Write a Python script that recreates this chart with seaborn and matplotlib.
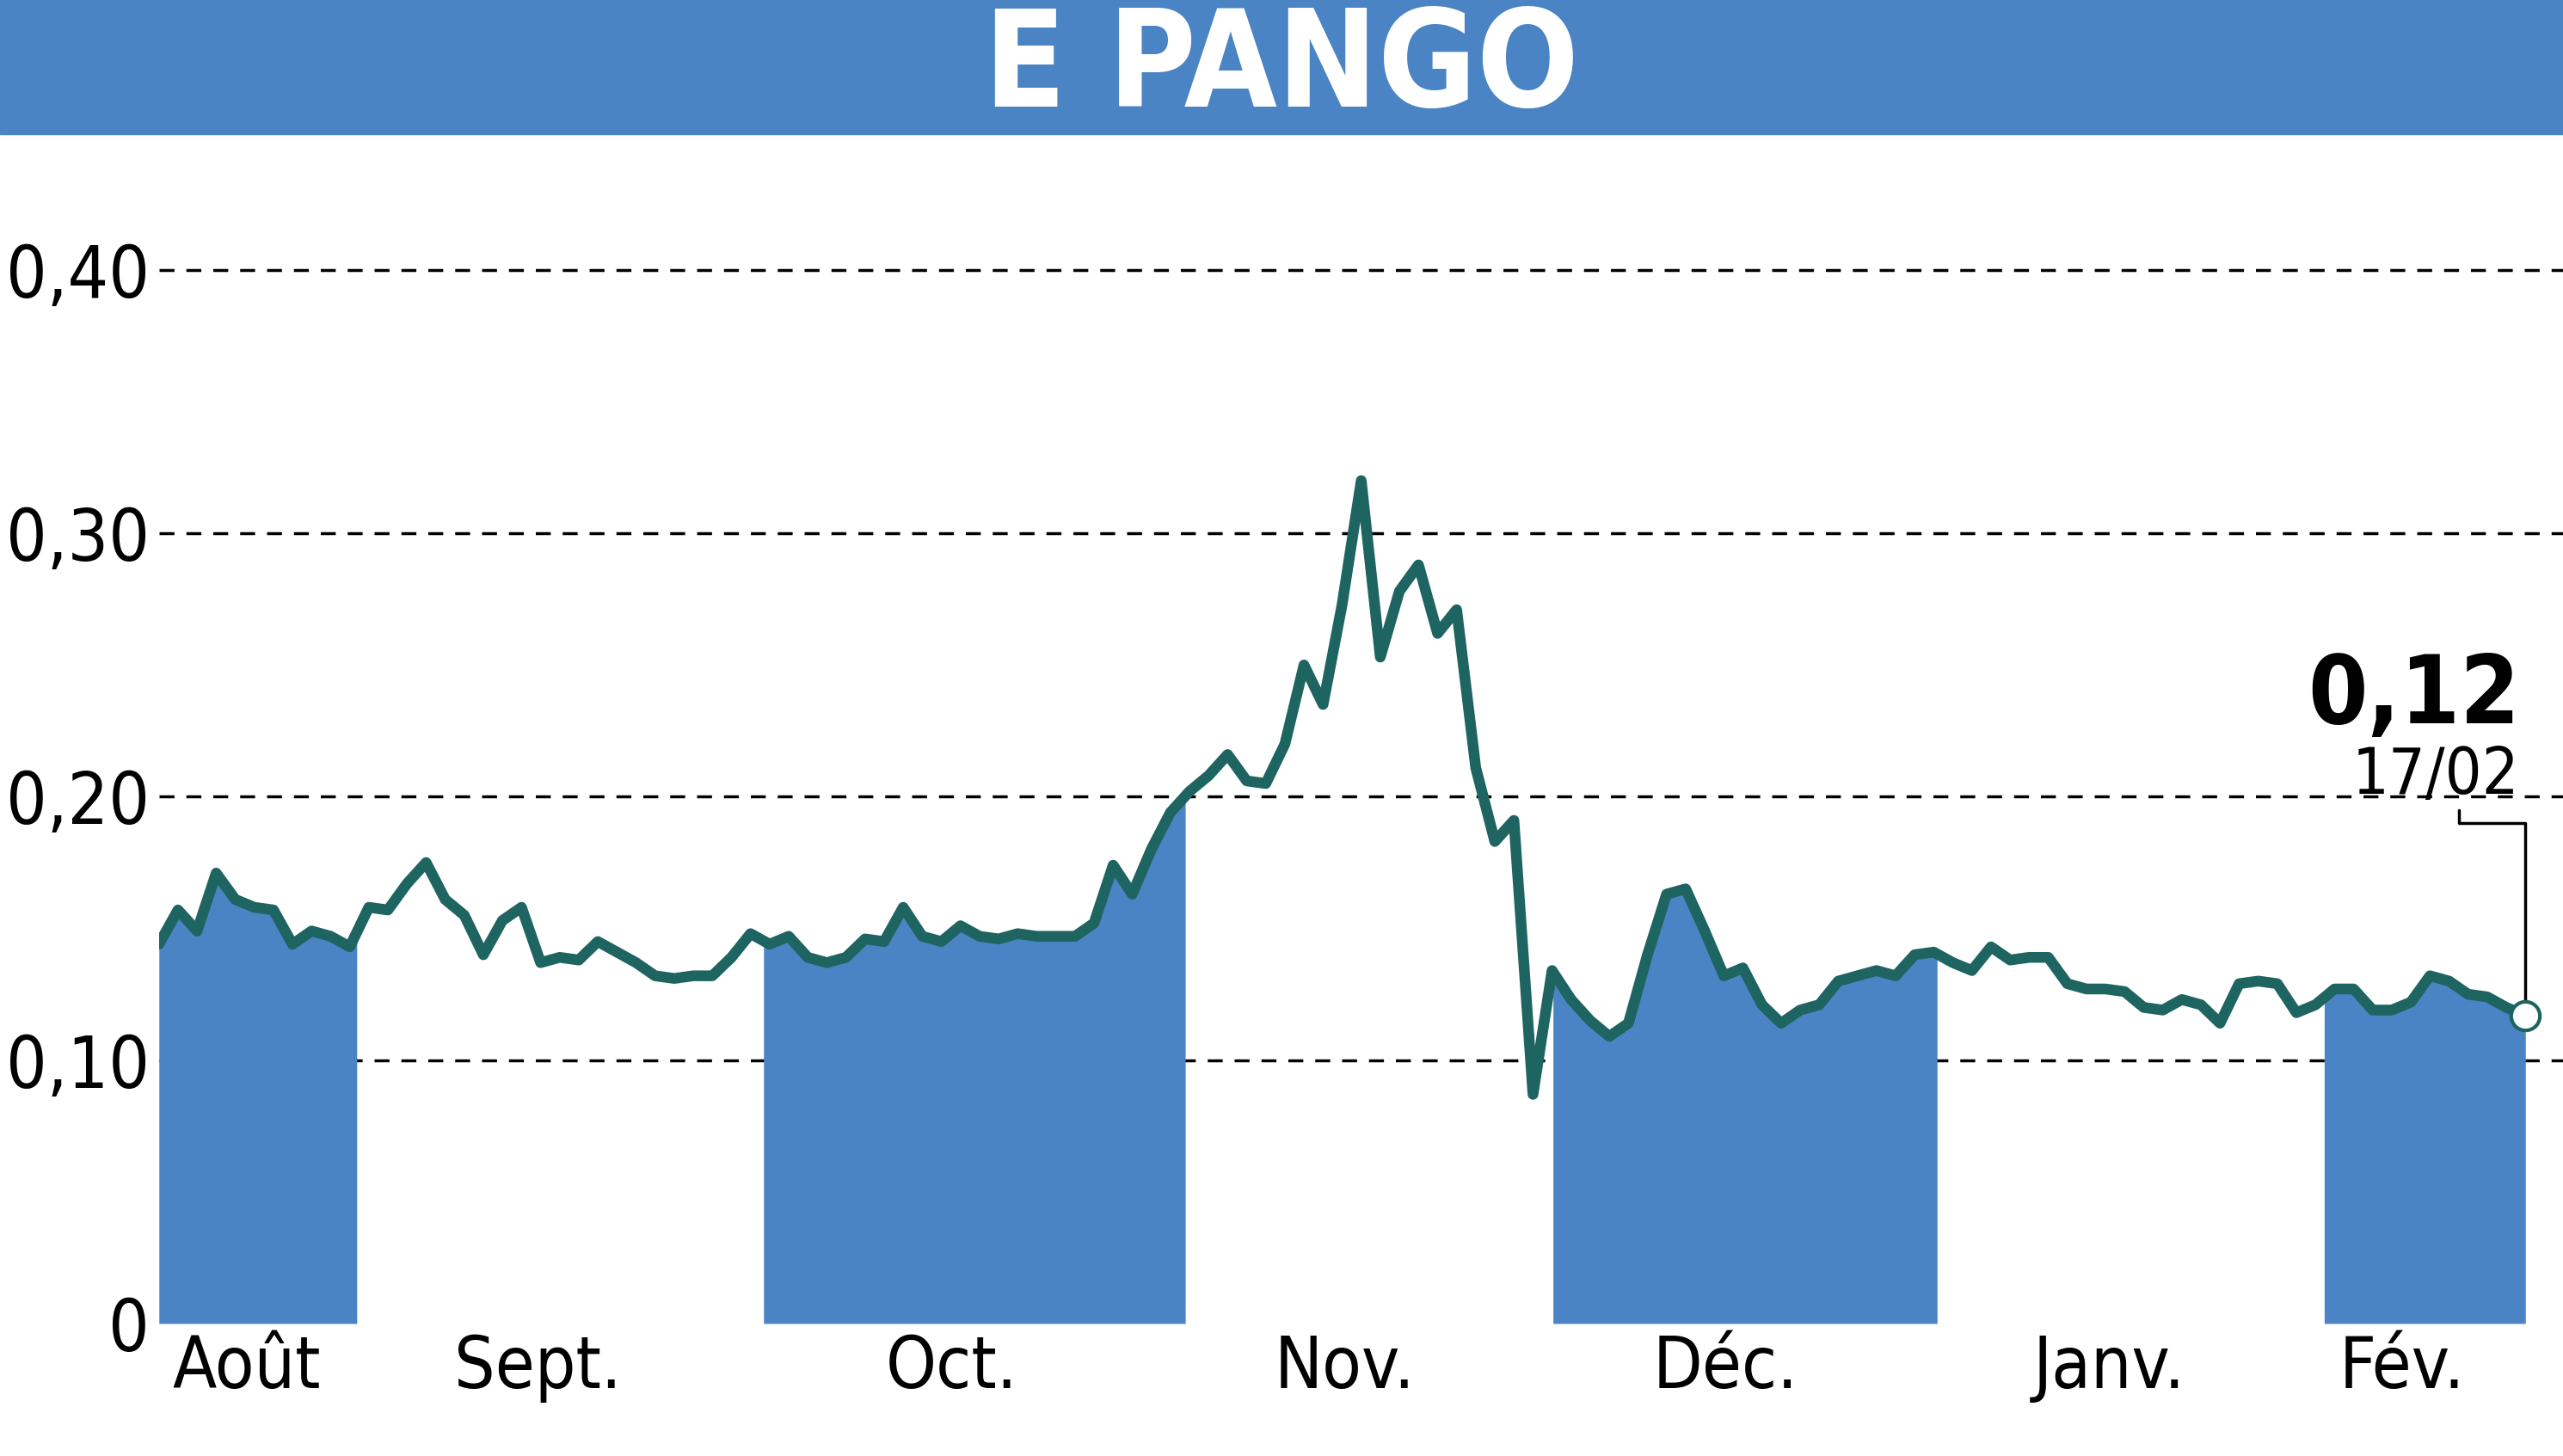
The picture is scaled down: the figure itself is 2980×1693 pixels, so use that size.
import numpy as np
import matplotlib
matplotlib.use("Agg")
import matplotlib.pyplot as plt
import seaborn as sns

title = "E PANGO"
prices = [0.144, 0.157, 0.149, 0.171, 0.161, 0.158, 0.157, 0.144, 0.149, 0.147,
          0.143, 0.158, 0.157, 0.167, 0.175, 0.161, 0.155, 0.140, 0.153, 0.158,
          0.137, 0.139, 0.138, 0.145, 0.141, 0.137, 0.132, 0.131, 0.132, 0.132,
          0.139, 0.148, 0.144, 0.147, 0.139, 0.137, 0.139, 0.146, 0.145, 0.158,
          0.147, 0.145, 0.151, 0.147, 0.146, 0.148, 0.147, 0.147, 0.147, 0.152,
          0.174, 0.163, 0.180, 0.194, 0.202, 0.208, 0.216, 0.206, 0.205, 0.220,
          0.250, 0.235, 0.273, 0.320, 0.253, 0.278, 0.288, 0.262, 0.271, 0.211,
          0.183, 0.191, 0.087, 0.134, 0.123, 0.115, 0.109, 0.114, 0.140, 0.163,
          0.165, 0.149, 0.132, 0.135, 0.121, 0.114, 0.119, 0.121, 0.130, 0.132,
          0.134, 0.132, 0.140, 0.141, 0.137, 0.134, 0.143, 0.138, 0.139, 0.139,
          0.129, 0.127, 0.127, 0.126, 0.120, 0.119, 0.123, 0.121, 0.114, 0.129,
          0.130, 0.129, 0.118, 0.121, 0.127, 0.127, 0.119, 0.119, 0.122, 0.132,
          0.130, 0.125, 0.124, 0.120, 0.117]
# month boundaries and label centres as fractions of the plotted span
month_edges = [0.0, 0.0836, 0.2555, 0.4337, 0.5891, 0.7514, 0.9150, 1.0]
month_labels = ["Août", "Sept.", "Oct.", "Nov.", "Déc.", "Janv.", "Fév."]
label_pos = [0.037, 0.160, 0.335, 0.501, 0.662, 0.824, 0.948]
yticks = [0, 0.10, 0.20, 0.30, 0.40]
ytick_labels = ["0", "0,10", "0,20", "0,30", "0,40"]
last_label = "0,12"
last_date = "17/02"

sns.set_style("white")
plt.rcParams["font.family"] = ["DejaVu Sans"]
plt.rcParams["font.stretch"] = "condensed"
plt.rcParams["text.color"] = "black"

blue = "#4a84c4"
teal = "#1e6461"

n = len(prices)
span = n - 1
x = np.arange(n)

fig = plt.figure(figsize=(29.8, 16.93), dpi=100)
ax = fig.add_axes([0.062, 0.091, 0.938, 0.796])

for i in range(0, len(month_edges) - 1, 2):
    a, b = month_edges[i] * span, month_edges[i + 1] * span
    m = (x >= a - 1e-9) & (x <= b + 1e-9)
    xs = np.concatenate([[a], x[m], [b]])
    ys = np.interp(xs, x, prices)
    ax.fill_between(xs, 0, ys, color=blue, lw=0, zorder=1)

for yv in yticks[1:]:
    ax.axhline(yv, color="black", lw=2.5, ls=(0, (5, 4)), zorder=0)

sns.lineplot(x=x, y=prices, ax=ax, color=teal, lw=9, zorder=3)
ax.plot(x[-1], prices[-1], "o", ms=24, mfc="white", mec=teal, mew=3, zorder=5)

# callout for last value
xl = x[-1]
ax.plot([xl - 3.5, xl - 3.5, xl, xl], [0.195, 0.19, 0.19, prices[-1] + 0.004],
        color="black", lw=2.5, zorder=4)
ax.text(xl - 0.3, 0.201, last_date, ha="right", va="baseline", fontsize=54)
ax.text(xl - 0.3, 0.228, last_label, ha="right", va="baseline", fontsize=80, fontweight="bold")

ax.set_xlim(0, 1.0159 * span)
ax.set_ylim(0, 0.44)
ax.set_yticks(yticks)
ax.set_yticklabels(ytick_labels, fontsize=60, color="black")
ax.set_xticks([p * span for p in label_pos])
ax.set_xticklabels(month_labels, fontsize=60, color="black")
ax.tick_params(length=0, pad=8)
for s in ax.spines.values():
    s.set_visible(False)
ax.set_ylabel("")

fig.patches.append(plt.Rectangle((0, 0.908), 1, 0.092, transform=fig.transFigure,
                                 color=blue, zorder=0))
fig.text(0.5, 0.952, title, ha="center", va="center", fontsize=112,
         fontweight="bold", color="white")

fig.savefig("out.png", dpi=100)
